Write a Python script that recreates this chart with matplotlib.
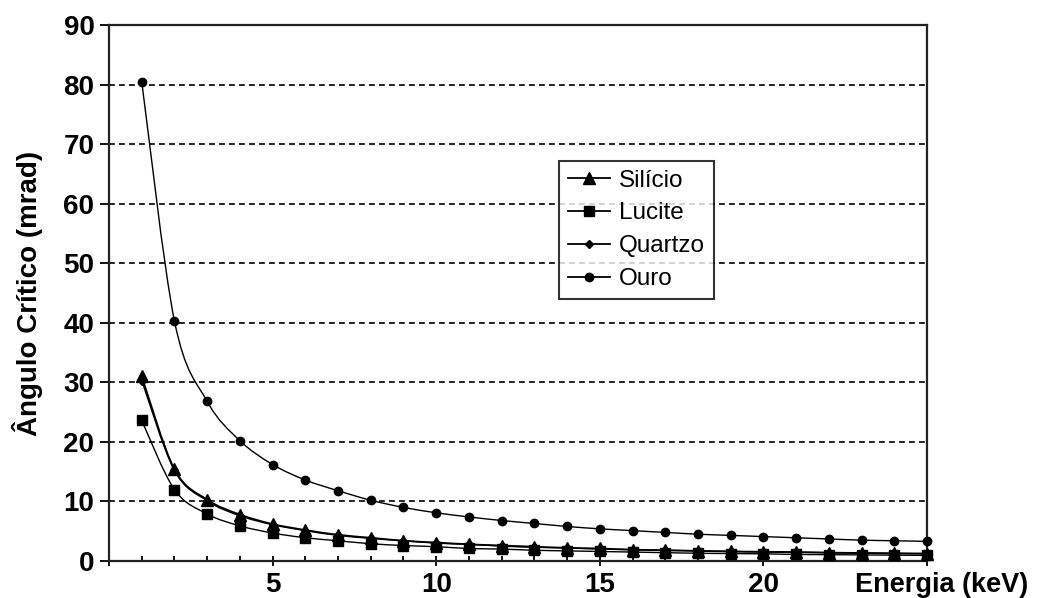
import numpy as np
import matplotlib
matplotlib.use('Agg')
import matplotlib.pyplot as plt
from matplotlib.path import Path
from matplotlib.patches import PathPatch
from matplotlib.lines import Line2D

plt.rcParams['font.family'] = ['Liberation Sans', 'DejaVu Sans']

energia = list(range(1, 26))
silicio = [31.0, 15.4, 10.3, 7.8, 6.2, 5.2, 4.4, 3.9, 3.4, 3.1, 2.8, 2.6, 2.4,
           2.2, 2.1, 1.9, 1.8, 1.7, 1.6, 1.55, 1.5, 1.4, 1.35, 1.3, 1.25]
lucite = [23.6, 12.0, 7.9, 5.9, 4.7, 3.9, 3.4, 2.9, 2.6, 2.4, 2.1, 2.0, 1.8,
          1.7, 1.6, 1.5, 1.4, 1.3, 1.25, 1.2, 1.1, 1.07, 1.02, 0.98, 0.94]
quartzo = [30.3, 15.2, 10.1, 7.6, 6.1, 5.1, 4.3, 3.8, 3.4, 3.0, 2.8, 2.5, 2.3,
           2.2, 2.0, 1.9, 1.8, 1.7, 1.6, 1.5, 1.45, 1.4, 1.3, 1.25, 1.2]
ouro = [80.5, 40.3, 26.8, 20.2, 16.2, 13.6, 11.8, 10.2, 9.0, 8.1, 7.4, 6.8, 6.3,
        5.8, 5.4, 5.1, 4.8, 4.5, 4.3, 4.1, 3.9, 3.7, 3.5, 3.4, 3.3]

series = [('Silício', silicio, '^', 8, 1.3),
          ('Lucite', lucite, 's', 6.5, 1.0),
          ('Quartzo', quartzo, 'D', 4.5, 1.0),
          ('Ouro', ouro, 'o', 6, 1.0)]


def smooth_path(x, y):
    # excel-like smoothed line drawn as bezier segments through the points
    p = np.column_stack([x, y]).astype(float)
    n = len(p)
    verts = [p[0]]
    codes = [Path.MOVETO]
    for i in range(n - 1):
        p0 = p[i - 1] if i > 0 else p[i]
        p3 = p[i + 2] if i + 2 < n else p[i + 1]
        c1 = p[i] + (p[i + 1] - p0) / 6
        c2 = p[i + 1] - (p3 - p[i]) / 6
        verts += [c1, c2, p[i + 1]]
        codes += [Path.CURVE4] * 3
    return Path(verts, codes)


fig = plt.figure(figsize=(10.37, 5.98), dpi=100)
ax = fig.add_axes([109/1037, 1-561/598, 818/1037, 536/598])

for y in range(10, 90, 10):
    ax.axhline(y, color='black', lw=1.2, ls=(0, (3.5, 2.5)), zorder=1)

handles = []
for name, vals, mk, ms, lw in series:
    ax.add_patch(PathPatch(smooth_path(energia, vals), fill=False,
                           edgecolor='black', lw=lw, zorder=2, clip_on=False))
    ax.plot(energia, vals, ls='none', marker=mk, ms=ms, color='black',
            zorder=3, clip_on=False)
    handles.append(Line2D([], [], color='black', lw=1.3, marker=mk, ms=ms))

ax.set_xlim(0, 25)
ax.set_ylim(0, 90)
ax.set_yticks(range(0, 91, 10))
ax.set_xticks([0, 5, 10, 15, 20, 25])
ax.set_xticklabels(['', '5', '10', '15', '20', ''])
ax.set_xticks(range(0, 26), minor=True)
for lab in ax.get_xticklabels() + ax.get_yticklabels():
    lab.set_fontweight('bold')
ax.tick_params(axis='y', direction='out', length=6.5, width=1.3, labelsize=20, pad=4)
ax.tick_params(axis='x', which='major', direction='inout', length=7.5, width=1.3,
               labelsize=20, pad=4.5)
ax.tick_params(axis='x', which='minor', direction='in', length=3.6, width=1.3)
for s in ax.spines.values():
    s.set_linewidth(1.6)
    s.set_color('#222222')

ax.set_ylabel('Ângulo Crítico (mrad)', fontsize=20, fontweight='bold', labelpad=15)
ax.annotate('Energia (keV)', xy=(1, 0), xycoords='axes fraction',
            xytext=(15, -31), textcoords='offset pixels', ha='center', va='baseline',
            fontsize=19.5, fontweight='bold')

leg = ax.legend(handles, [s[0] for s in series], loc='upper left',
                bbox_to_anchor=(559/1037, 1-161/598),
                bbox_transform=fig.transFigure, borderaxespad=0,
                fontsize=17.5, handlelength=1.75, handletextpad=0.38,
                labelspacing=0.45, borderpad=0.35, frameon=True, fancybox=False)
leg.get_frame().set_edgecolor('black')
leg.get_frame().set_linewidth(1.5)

fig.savefig('out.png', dpi=100)
